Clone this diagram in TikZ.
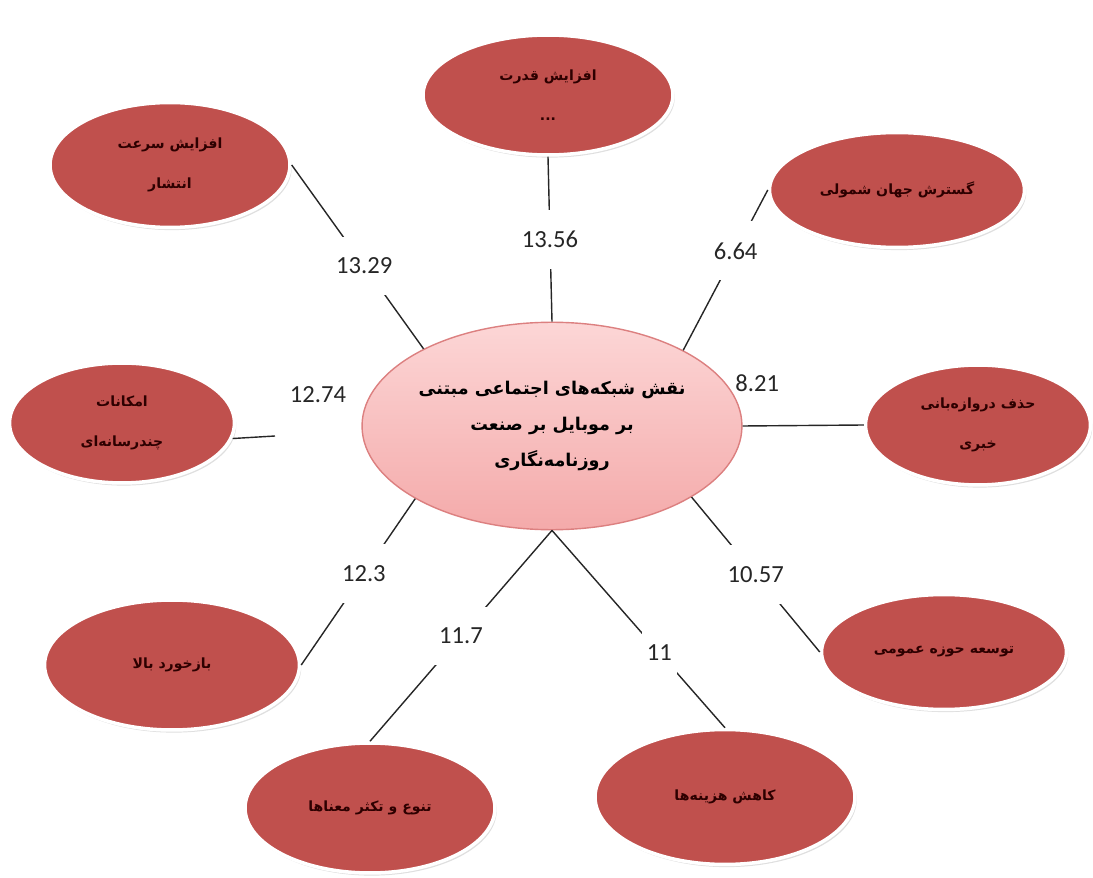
\documentclass[tikz,border=0pt]{standalone}
\usepackage{fontspec}
\setmainfont{Carlito}
\newfontfamily\arabicfont[Script=Arabic]{DejaVu Sans}
\TeXXeTstate=1
\usetikzlibrary{shapes.geometric,shadows}

\definecolor{leafred}{RGB}{192,80,77}
\definecolor{hubtop}{RGB}{252,214,214}
\definecolor{hubbottom}{RGB}{244,170,170}
\definecolor{hubedge}{RGB}{220,128,128}
\definecolor{leaftext}{RGB}{45,0,0}

\newcommand{\fatxt}[1]{{\arabicfont\bfseries\beginR #1\endR}}

\begin{document}
\begin{tikzpicture}[x=0.02cm, y=-0.02cm,
    leaf/.style={ellipse, fill=leafred, draw=white, line width=2pt, inner sep=0pt,
      minimum width=5cm, minimum height=2.4cm, align=center, text=leaftext,
      font=\fontsize{8}{23}\selectfont,
      drop shadow={opacity=0.25, shadow xshift=1pt, shadow yshift=-1.5pt}},
    hub/.style={ellipse, top color=hubtop, bottom color=hubbottom, draw=hubedge,
      line width=0.8pt, inner sep=0pt, minimum width=7.6cm, minimum height=4.15cm,
      align=center, font=\fontsize{10}{20.5}\selectfont},
    conn/.style={draw=black!85, line width=0.8pt},
    num/.style={font=\fontsize{14}{16}\selectfont, text=black!85, fill=white,
      inner xsep=3pt, inner ysep=12pt},
    numtxt/.style={font=\fontsize{14}{16}\selectfont, text=black!85}]
  \useasboundingbox (0,0) rectangle (1093,878);

  \node[hub] (main) at (552,426) {\fatxt{نقش شبکه‌های اجتماعی مبتنی}\\\fatxt{بر موبایل بر صنعت}\\\fatxt{روزنامه‌نگاری}};

  \node[leaf] (top) at (548,95) {\fatxt{افزایش قدرت}\\\fatxt{...}};
  \node[leaf, minimum width=4.8cm, minimum height=2.5cm] (topleft) at (170,165) {\fatxt{افزایش سرعت}\\\fatxt{انتشار}};
  \node[leaf, minimum width=5.1cm, minimum height=2.3cm] (topright) at (897,190) {\fatxt{گسترش جهان شمولی}};
  \node[leaf, minimum width=4.5cm] (left) at (122,423) {\fatxt{امکانات}\\\fatxt{چندرسانه‌ای}};
  \node[leaf, minimum width=4.5cm] (right) at (978,425) {\fatxt{حذف دروازه‌بانی}\\\fatxt{خبری}};
  \node[leaf, minimum width=5.1cm, minimum height=2.6cm] (botleft) at (172,665) {\fatxt{بازخورد بالا}};
  \node[leaf, minimum width=4.9cm, minimum height=2.3cm] (botright) at (944,652) {\fatxt{توسعه حوزه عمومی}};
  \node[leaf, minimum height=2.6cm] (variety) at (370,808) {\fatxt{تنوع و تکثر معناها}};
  \node[leaf, minimum width=5.2cm, minimum height=2.7cm] (cost) at (725,797) {\fatxt{کاهش هزینه‌ها}};

  \draw[conn] (topleft.east) -- node[num, pos=.55] (n1329) {13.29} (main.149);
  \draw[conn] (top.south) -- node[num, pos=.5] (n1356) {13.56} (main.north);
  \draw[conn] (topright.west) -- node[num, pos=.38] (n664) {6.64} (main.30);
  \draw[conn] (main.east) -- node[numtxt, pos=.12, above=0.55cm] (n821) {8.21} (right.west);
  \coordinate (e1274) at (275,436);
  \draw[conn] (left.-8) -- (e1274);
  \node[numtxt] (n1274) at (318,395) {12.74};
  \draw[conn] (botleft.east) -- node[num, pos=.55] (n123) {12.3} (main.208);
  \draw[conn] (main.south) -- node[num, pos=.5] (n117) {11.7} (variety.north);
  \draw[conn] (main.south) -- node[num, pos=.62] (n11) {11} (cost.north);
  \draw[conn] (main.-27) -- node[num, pos=.5] (n1057) {10.57} (botright.west);
\end{tikzpicture}
\end{document}
